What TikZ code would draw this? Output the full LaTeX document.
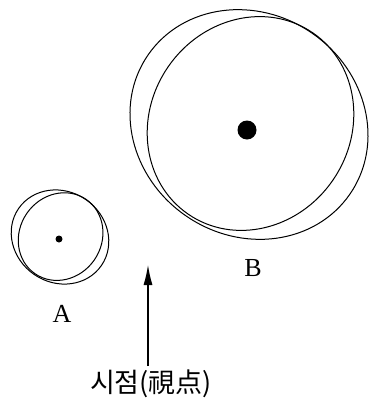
\documentclass[tikz,border=0pt]{standalone}
\usepackage{fontspec}
\setmainfont{Liberation Serif}
\newfontfamily\krfont{Noto Sans CJK KR}
\usetikzlibrary{arrows.meta}
\begin{document}
\begin{tikzpicture}[x=1pt,y=-1pt,
  ring/.style={line width=1pt},
  lab/.style={font=\fontsize{26}{26}\selectfont, inner sep=0pt},
  dotmark/.style={circle, fill=black, inner sep=0pt}]
\useasboundingbox (0,0) rectangle (368,402);
% body B
\draw[ring] (250.5,123.5) ellipse[x radius=110, y radius=100, rotate=55.5];
\draw[ring] (249,124.5) ellipse[x radius=122.6, y radius=111, rotate=-34.5];
% body A
\begin{scope}[shift={(60,237)}, scale=0.41]
  \draw[ring] (1.5,-1) ellipse[x radius=110, y radius=100, rotate=55.5];
  \draw[ring] (0,0) ellipse[x radius=122.6, y radius=111, rotate=-34.5];
\end{scope}
\node[dotmark, minimum size=19pt] (dotB) at (247,130) {};
\node[dotmark, minimum size=7pt] (dotA) at (59,239) {};
\node[lab] (labA) at (62,314) {A};
\node[lab] (labB) at (253,268) {B};
\node[font=\krfont\fontsize{27}{27}\selectfont, inner sep=0pt] (vp) at (151,384) {시점(視点)};
\coordinate (tip) at (148,265);
\coordinate (base) at (148,366);
\draw[line width=1.1pt, -{Latex[length=20pt,width=9pt]}] (base) -- (tip);
\end{tikzpicture}
\end{document}
